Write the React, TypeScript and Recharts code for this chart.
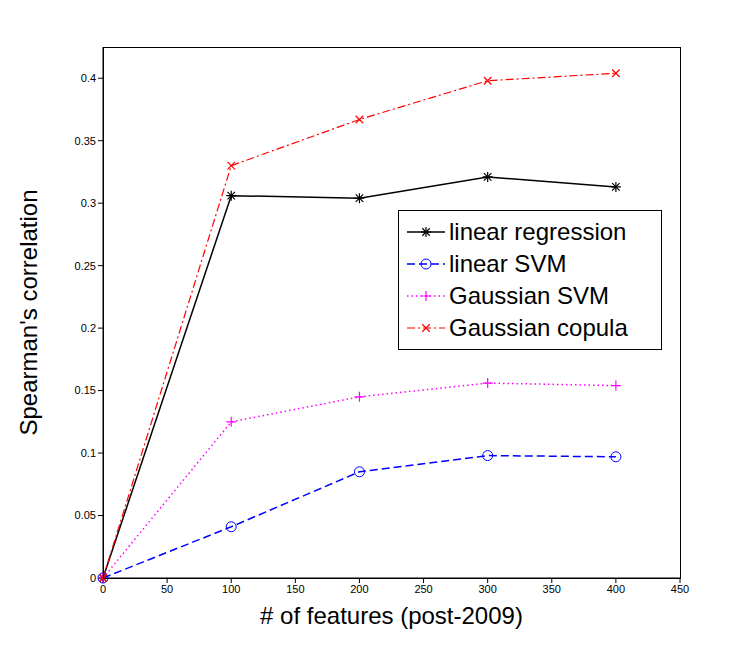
import React from 'react';
import { LineChart, Line, XAxis, YAxis } from 'recharts';

const features = [0, 100, 200, 300, 400];
const linearRegression = [0, 0.306, 0.304, 0.321, 0.313];
const linearSVM = [0, 0.041, 0.085, 0.098, 0.097];
const gaussianSVM = [0, 0.125, 0.145, 0.156, 0.154];
const gaussianCopula = [0, 0.330, 0.367, 0.398, 0.404];
const xTicks = [0, 50, 100, 150, 200, 250, 300, 350, 400, 450];
const yTicks = [0, 0.05, 0.1, 0.15, 0.2, 0.25, 0.3, 0.35, 0.4];

const data = features.map((f, i) => ({
  f,
  lr: linearRegression[i],
  ls: linearSVM[i],
  gs: gaussianSVM[i],
  gc: gaussianCopula[i],
}));

type Marker = 'star' | 'circle' | 'plus' | 'x';

function mark(kind: Marker, color: string, cx: number, cy: number, key?: string | number) {
  const r = 5;
  if (kind === 'circle') return <circle key={key} cx={cx} cy={cy} r={r} fill="none" stroke={color} strokeWidth={1} />;
  const plus = <path d={`M${cx - r},${cy}H${cx + r}M${cx},${cy - r}V${cy + r}`} />;
  const cross = <path d={`M${cx - r * 0.75},${cy - r * 0.75}L${cx + r * 0.75},${cy + r * 0.75}M${cx - r * 0.75},${cy + r * 0.75}L${cx + r * 0.75},${cy - r * 0.75}`} />;
  return (
    <g key={key} stroke={color} strokeWidth={1.2} fill="none">
      {kind !== 'x' && plus}
      {kind !== 'plus' && cross}
    </g>
  );
}

const dot = (kind: Marker, color: string) => (p: any) => mark(kind, color, p.cx, p.cy, p.index);

const series = [
  { key: 'lr', name: 'linear regression', color: '#000000', dash: undefined, kind: 'star' as Marker, w: 1.5 },
  { key: 'ls', name: 'linear SVM', color: '#0000ff', dash: '8 4', kind: 'circle' as Marker, w: 1.5 },
  { key: 'gs', name: 'Gaussian SVM', color: '#ff00ff', dash: '1.5 3', kind: 'plus' as Marker, w: 1.5 },
  { key: 'gc', name: 'Gaussian copula', color: '#ff0000', dash: '8 3 2 3', kind: 'x' as Marker, w: 1.2 },
];

function LegendBox() {
  return (
    <div style={{ position: 'absolute', left: 390, top: 202, border: '1px solid #000', background: '#fff', width: 262, padding: '5px 0', fontFamily: 'Liberation Sans, Arial, sans-serif', fontSize: 24 }}>
      {series.map((s) => (
        <div key={s.key} style={{ display: 'flex', alignItems: 'center', height: 32 }}>
          <svg width={46} height={20} style={{ marginLeft: 4 }}>
            <line x1={4} y1={10} x2={42} y2={10} stroke={s.color} strokeWidth={s.w} strokeDasharray={s.dash} />
            {mark(s.kind, s.color, 23, 10)}
          </svg>
          <span style={{ color: '#000' }}>{s.name}</span>
        </div>
      ))}
    </div>
  );
}

export default function App() {
  const tickStyle = { fontSize: 11, fill: '#000', fontFamily: 'Liberation Sans, Arial, sans-serif' };
  return (
    <div style={{ position: 'relative', background: '#fff', width: 734, height: 634 }}>
      <LineChart width={734} height={634} data={data} margin={{ top: 39, right: 62, left: 0, bottom: 0 }}>
        <XAxis
          dataKey="f" type="number" domain={[0, 450]} ticks={xTicks} stroke="#000" tick={tickStyle}
          tickSize={5} height={64}
          label={{ value: '# of features (post-2009)', position: 'insideBottom', offset: 18, fontSize: 24, fill: '#000', fontFamily: 'Liberation Sans, Arial, sans-serif' }}
        />
        <YAxis
          type="number" domain={[0, 0.425]} ticks={yTicks} stroke="#000" tick={tickStyle} tickSize={5} width={95}
          label={{ value: "Spearman's correlation", angle: -90, position: 'insideLeft', offset: 20, fontSize: 24, fill: '#000', fontFamily: 'Liberation Sans, Arial, sans-serif', style: { textAnchor: 'middle' } }}
        />
        {series.map((s) => (
          <Line key={s.key} dataKey={s.key} name={s.name} stroke={s.color} strokeWidth={s.w} strokeDasharray={s.dash}
            dot={dot(s.kind, s.color)} activeDot={false} isAnimationActive={false} />
        ))}
      </LineChart>
      <div style={{ position: 'absolute', left: 95, top: 39, width: 576, height: 530, border: '1px solid #000', pointerEvents: 'none' }} />
      <LegendBox />
    </div>
  );
}
